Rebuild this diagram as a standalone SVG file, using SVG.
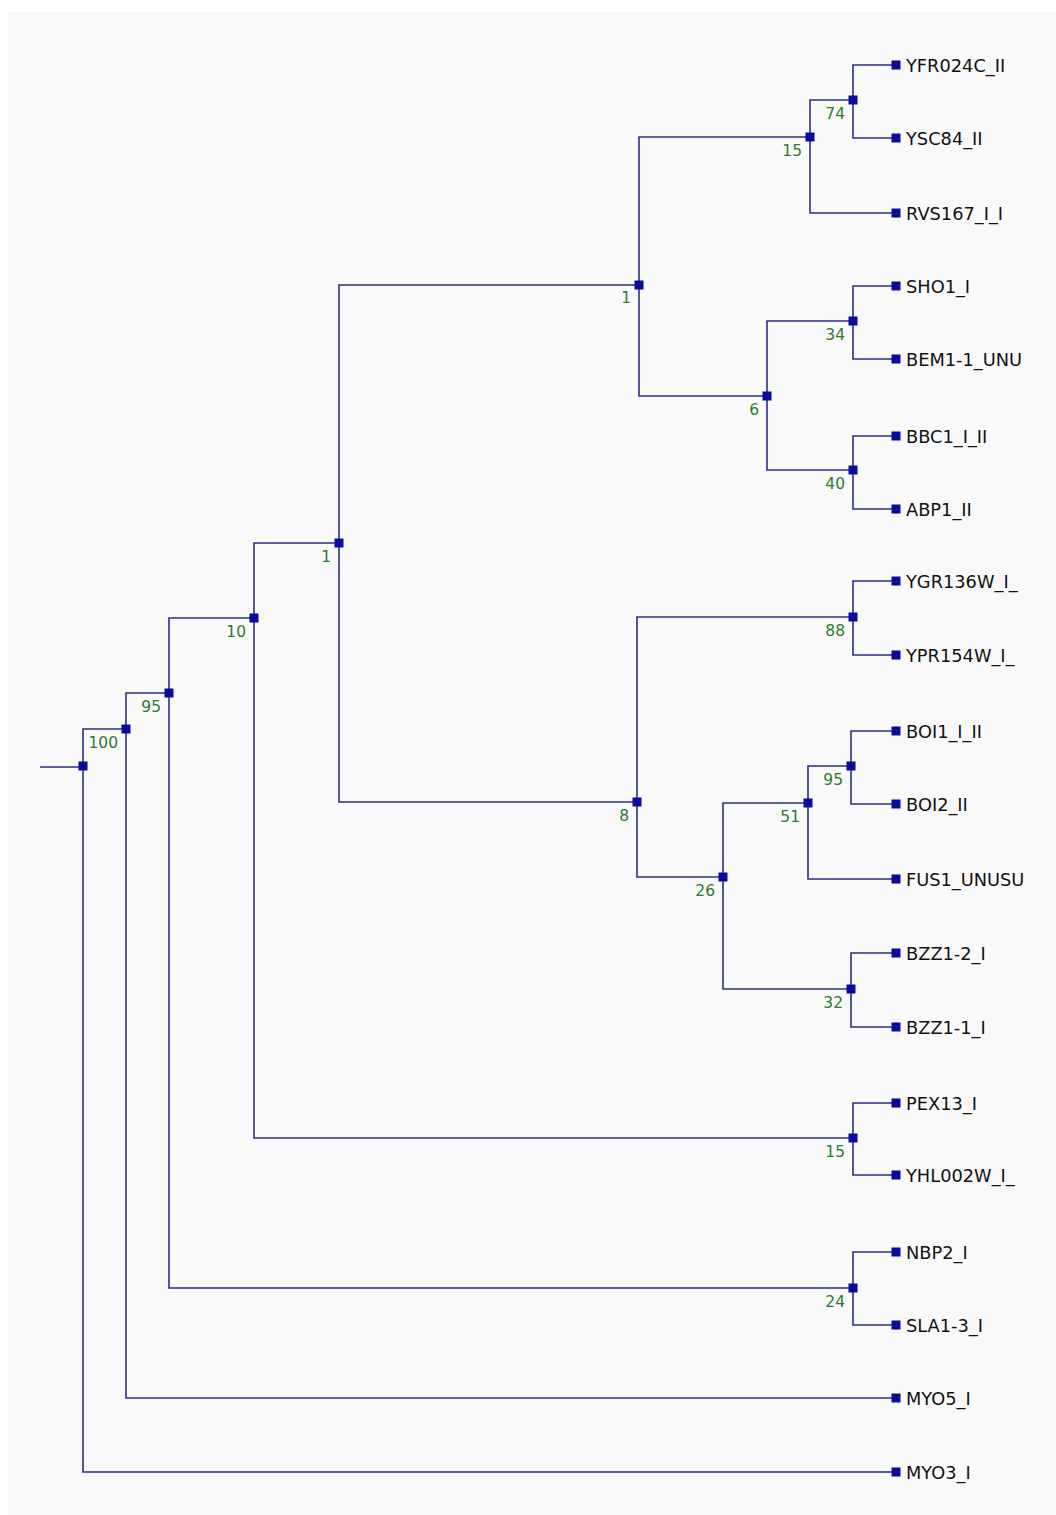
<svg xmlns="http://www.w3.org/2000/svg" width="1056" height="1515" viewBox="0 0 1056 1515">
<style>
.bg{fill:#f9f9f9}
.e{fill:none;stroke:#2d2d86;stroke-width:1.6}
.n{fill:#0a0a9c}
.lf{font-family:"DejaVu Sans",sans-serif;font-size:17.8px;fill:#111}
.bs{font-family:"DejaVu Sans",sans-serif;font-size:15.5px;fill:#2f7a2f;text-anchor:end}
</style>
<defs>
<rect id="sq" x="-4.5" y="-4.5" width="9" height="9"/>
</defs>
<rect width="1056" height="1515" fill="#fff"/>
<rect class="bg" x="8" y="12" width="1048" height="1503"/>
<g id="connectors">
<path class="e" d="M40 767H83"/>
<path class="e" d="M126 729H83V1472H892"/>
<path class="e" d="M169 693H126V1398H892"/>
<path class="e" d="M254 618H169V1288H853"/>
<path class="e" d="M339 543H254V1138H853"/>
<path class="e" d="M639 285H339V802H637"/>
<path class="e" d="M810 137H639V396H767"/>
<path class="e" d="M853 100H810V213H892"/>
<path class="e" d="M892 65H853V138H892"/>
<path class="e" d="M853 321H767V470H853"/>
<path class="e" d="M892 286H853V359H892"/>
<path class="e" d="M892 436H853V509H892"/>
<path class="e" d="M853 617H637V877H723"/>
<path class="e" d="M892 581H853V655H892"/>
<path class="e" d="M808 803H723V989H851"/>
<path class="e" d="M851 766H808V879H892"/>
<path class="e" d="M892 731H851V804H892"/>
<path class="e" d="M892 953H851V1027H892"/>
<path class="e" d="M892 1103H853V1175H892"/>
<path class="e" d="M892 1252H853V1325H892"/>
</g>
<g id="n_root"><use href="#sq" class="n" x="83" y="766"/></g>
<g id="n_100"><use href="#sq" class="n" x="126" y="729"/><text class="bs" x="118" y="748">100</text></g>
<g id="n_95a"><use href="#sq" class="n" x="169" y="693"/><text class="bs" x="161" y="712">95</text></g>
<g id="n_10"><use href="#sq" class="n" x="254" y="618"/><text class="bs" x="246" y="637">10</text></g>
<g id="n_1a"><use href="#sq" class="n" x="339" y="543"/><text class="bs" x="331" y="562">1</text></g>
<g id="n_1b"><use href="#sq" class="n" x="639" y="285"/><text class="bs" x="631" y="303">1</text></g>
<g id="n_15a"><use href="#sq" class="n" x="810" y="137"/><text class="bs" x="802" y="156">15</text></g>
<g id="n_74"><use href="#sq" class="n" x="853" y="100"/><text class="bs" x="845" y="119">74</text></g>
<g id="n_6"><use href="#sq" class="n" x="767" y="396"/><text class="bs" x="759" y="415">6</text></g>
<g id="n_34"><use href="#sq" class="n" x="853" y="321"/><text class="bs" x="845" y="340">34</text></g>
<g id="n_40"><use href="#sq" class="n" x="853" y="470"/><text class="bs" x="845" y="489">40</text></g>
<g id="n_8"><use href="#sq" class="n" x="637" y="802"/><text class="bs" x="629" y="821">8</text></g>
<g id="n_88"><use href="#sq" class="n" x="853" y="617"/><text class="bs" x="845" y="636">88</text></g>
<g id="n_26"><use href="#sq" class="n" x="723" y="877"/><text class="bs" x="715" y="896">26</text></g>
<g id="n_51"><use href="#sq" class="n" x="808" y="803"/><text class="bs" x="800" y="822">51</text></g>
<g id="n_95b"><use href="#sq" class="n" x="851" y="766"/><text class="bs" x="843" y="785">95</text></g>
<g id="n_32"><use href="#sq" class="n" x="851" y="989"/><text class="bs" x="843" y="1008">32</text></g>
<g id="n_15b"><use href="#sq" class="n" x="853" y="1138"/><text class="bs" x="845" y="1157">15</text></g>
<g id="n_24"><use href="#sq" class="n" x="853" y="1288"/><text class="bs" x="845" y="1307">24</text></g>
<g id="l_YFR024C"><use href="#sq" class="n" x="896" y="65"/><text class="lf" x="906" y="71.5">YFR024C_II</text></g>
<g id="l_YSC84"><use href="#sq" class="n" x="896" y="138"/><text class="lf" x="906" y="144.5">YSC84_II</text></g>
<g id="l_RVS167"><use href="#sq" class="n" x="896" y="213"/><text class="lf" x="906" y="219.5">RVS167_I_I</text></g>
<g id="l_SHO1"><use href="#sq" class="n" x="896" y="286"/><text class="lf" x="906" y="292.5">SHO1_I</text></g>
<g id="l_BEM1"><use href="#sq" class="n" x="896" y="359"/><text class="lf" x="906" y="365.5">BEM1-1_UNU</text></g>
<g id="l_BBC1"><use href="#sq" class="n" x="896" y="436"/><text class="lf" x="906" y="442.5">BBC1_I_II</text></g>
<g id="l_ABP1"><use href="#sq" class="n" x="896" y="509"/><text class="lf" x="906" y="515.5">ABP1_II</text></g>
<g id="l_YGR136W"><use href="#sq" class="n" x="896" y="581"/><text class="lf" x="906" y="587.5">YGR136W_I_</text></g>
<g id="l_YPR154W"><use href="#sq" class="n" x="896" y="655"/><text class="lf" x="906" y="661.5">YPR154W_I_</text></g>
<g id="l_BOI1"><use href="#sq" class="n" x="896" y="731"/><text class="lf" x="906" y="737.5">BOI1_I_II</text></g>
<g id="l_BOI2"><use href="#sq" class="n" x="896" y="804"/><text class="lf" x="906" y="810.5">BOI2_II</text></g>
<g id="l_FUS1"><use href="#sq" class="n" x="896" y="879"/><text class="lf" x="906" y="885.5">FUS1_UNUSU</text></g>
<g id="l_BZZ1-2"><use href="#sq" class="n" x="896" y="953"/><text class="lf" x="906" y="959.5">BZZ1-2_I</text></g>
<g id="l_BZZ1-1"><use href="#sq" class="n" x="896" y="1027"/><text class="lf" x="906" y="1033.5">BZZ1-1_I</text></g>
<g id="l_PEX13"><use href="#sq" class="n" x="896" y="1103"/><text class="lf" x="906" y="1109.5">PEX13_I</text></g>
<g id="l_YHL002W"><use href="#sq" class="n" x="896" y="1175"/><text class="lf" x="906" y="1181.5">YHL002W_I_</text></g>
<g id="l_NBP2"><use href="#sq" class="n" x="896" y="1252"/><text class="lf" x="906" y="1258.5">NBP2_I</text></g>
<g id="l_SLA1-3"><use href="#sq" class="n" x="896" y="1325"/><text class="lf" x="906" y="1331.5">SLA1-3_I</text></g>
<g id="l_MYO5"><use href="#sq" class="n" x="896" y="1398"/><text class="lf" x="906" y="1404.5">MYO5_I</text></g>
<g id="l_MYO3"><use href="#sq" class="n" x="896" y="1472"/><text class="lf" x="906" y="1478.5">MYO3_I</text></g>
</svg>
